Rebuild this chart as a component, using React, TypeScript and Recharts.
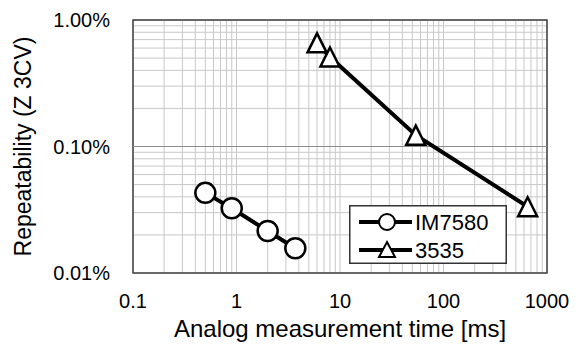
import React from "react";
import {
  ScatterChart,
  Scatter,
  XAxis,
  YAxis,
  CartesianGrid,
  ReferenceArea,
  ReferenceLine,
  Legend,
} from "recharts";

// IM7580 series (time in ms, repeatability in %)
const im7580Time = [0.5, 0.9, 2, 3.7];
const im7580Rep = [0.043, 0.0325, 0.0215, 0.0157];

// 3535 series
const hiokiTime = [6, 8, 54, 650];
const hiokiRep = [0.66, 0.51, 0.123, 0.0334];

const xTicks = [
  0.1, 0.2, 0.3, 0.4, 0.5, 0.6, 0.7, 0.8, 0.9,
  1, 2, 3, 4, 5, 6, 7, 8, 9,
  10, 20, 30, 40, 50, 60, 70, 80, 90,
  100, 200, 300, 400, 500, 600, 700, 800, 900,
  1000,
];
const xLabels = [0.1, 1, 10, 100, 1000];

const yTicks = [
  0.01, 0.02, 0.03, 0.04, 0.05, 0.06, 0.07, 0.08, 0.09,
  0.1, 0.2, 0.3, 0.4, 0.5, 0.6, 0.7, 0.8, 0.9,
  1,
];
const yLabels = [0.01, 0.1, 1];

const im7580Data = im7580Time.map((t, i) => ({ x: t, y: im7580Rep[i] }));
const hiokiData = hiokiTime.map((t, i) => ({ x: t, y: hiokiRep[i] }));

const FONT = "'Liberation Sans', Arial, sans-serif";

const CircleDot = (props: any) => {
  const { cx, cy } = props;
  return <circle cx={cx} cy={cy} r={10} fill="#fff" stroke="#000" strokeWidth={2.5} />;
};

const TriangleDot = (props: any) => {
  const { cx, cy } = props;
  const s = 9.5;
  return (
    <path
      d={`M${cx},${cy - s} L${cx + s},${cy + s} L${cx - s},${cy + s} Z`}
      fill="#fff"
      stroke="#000"
      strokeWidth={2.5}
      strokeLinejoin="miter"
    />
  );
};

const LegendBox = () => (
  <svg width={158} height={59} style={{ display: "block" }}>
    <rect x={0.75} y={0.75} width={156.5} height={57.5} fill="#fff" stroke="#333" strokeWidth={1.5} />
    <line x1={10} y1={17} x2={63} y2={17} stroke="#000" strokeWidth={4} />
    <circle cx={38} cy={17} r={8} fill="#fff" stroke="#000" strokeWidth={2} />
    <text x={66} y={17} dy="0.36em" fontSize={22} fontFamily={FONT} fill="#000">
      IM7580
    </text>
    <line x1={10} y1={45} x2={63} y2={45} stroke="#000" strokeWidth={4} />
    <path d="M38,37 L46,52 L30,52 Z" fill="#fff" stroke="#000" strokeWidth={2} />
    <text x={66} y={45} dy="0.36em" fontSize={22} fontFamily={FONT} fill="#000">
      3535
    </text>
  </svg>
);

export default function App() {
  return (
    <div style={{ position: "absolute", left: 0, top: 0, background: "#fff" }}>
      <ScatterChart
        width={578}
        height={345}
        margin={{ top: 20, right: 31, left: 0, bottom: 0 }}
        style={{ fontFamily: FONT }}
      >
        <CartesianGrid stroke="#c8c8c8" strokeWidth={1} />
        <XAxis
          dataKey="x"
          type="number"
          scale="log"
          domain={[0.1, 1000]}
          allowDataOverflow
          ticks={xTicks}
          interval={0}
          tickFormatter={(v: number) => (xLabels.includes(v) ? String(v) : "")}
          axisLine={false}
          tickLine={false}
          tickSize={0}
          tickMargin={21}
          height={72}
          tick={{ fontSize: 20, fill: "#000", fontFamily: FONT }}
          label={{
            value: "Analog measurement time [ms]",
            position: "insideBottom",
            offset: 8,
            style: { fontSize: 24, fill: "#000", fontFamily: FONT },
          }}
        />
        <YAxis
          dataKey="y"
          type="number"
          scale="log"
          domain={[0.01, 1]}
          allowDataOverflow
          ticks={yTicks}
          interval={0}
          tickFormatter={(v: number) => (yLabels.includes(v) ? v.toFixed(2) + "%" : "")}
          axisLine={false}
          tickLine={false}
          tickSize={0}
          tickMargin={23}
          width={133}
          tick={{ fontSize: 20, fill: "#000", fontFamily: FONT }}
          label={{
            value: "Repeatability (Z 3CV)",
            angle: -90,
            position: "insideLeft",
            offset: 23,
            style: { fontSize: 23, fill: "#000", fontFamily: FONT, textAnchor: "middle" },
          }}
        />
        <ReferenceLine y={0.1} stroke="#8c8c8c" strokeWidth={1.2} />
        <ReferenceArea
          x1={0.1}
          x2={1000}
          y1={0.01}
          y2={1}
          fill="none"
          fillOpacity={0}
          stroke="#404040"
          strokeWidth={1.5}
        />
        <Legend
          layout="horizontal"
          verticalAlign="middle"
          align="center"
          wrapperStyle={{ left: 349, top: 205, width: 158, height: 59 }}
          content={() => <LegendBox />}
        />
        <Scatter
          name="IM7580"
          data={im7580Data}
          line={{ stroke: "#000", strokeWidth: 4 }}
          lineJointType="linear"
          shape={CircleDot}
          isAnimationActive={false}
        />
        <Scatter
          name="3535"
          data={hiokiData}
          line={{ stroke: "#000", strokeWidth: 4 }}
          lineJointType="linear"
          shape={TriangleDot}
          isAnimationActive={false}
        />
      </ScatterChart>
    </div>
  );
}
